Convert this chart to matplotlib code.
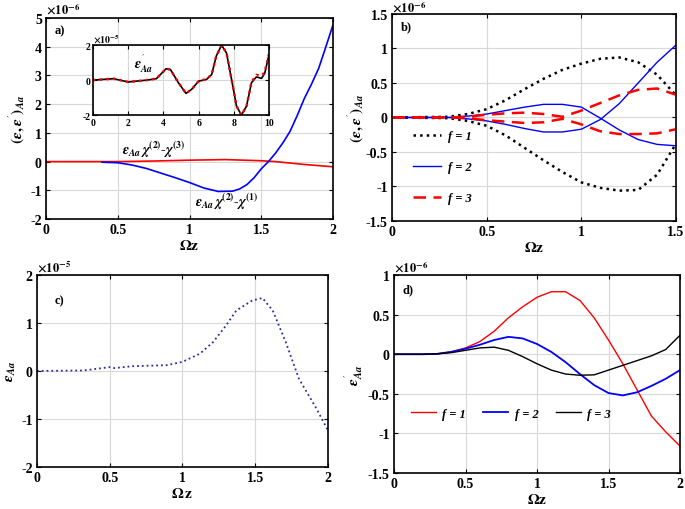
import matplotlib
matplotlib.use('Agg')
import matplotlib.pyplot as plt
from matplotlib.ticker import FuncFormatter

plt.rcParams['font.family'] = ['Liberation Serif', 'DejaVu Serif']
plt.rcParams['font.weight'] = 'bold'
plt.rcParams['mathtext.fontset'] = 'stix'

# panel a (x1e-6)
a_blue_x = [0.39, 0.5, 0.6, 0.7, 0.8, 0.9, 1.0, 1.1, 1.2, 1.3, 1.35, 1.4, 1.45, 1.5, 1.55, 1.6,
            1.65, 1.7, 1.75, 1.8, 1.85, 1.9, 1.95, 2.0]
a_blue_y = [-0.02, -0.04, -0.12, -0.24, -0.4, -0.56, -0.73, -0.92, -1.04, -1.03, -0.95, -0.8, -0.56,
            -0.25, 0.0, 0.3, 0.65, 1.05, 1.6, 2.2, 2.7, 3.25, 4.0, 4.77]
a_red_x = [0, 0.5, 0.75, 1.0, 1.25, 1.5, 1.6, 1.8, 2.0]
a_red_y = [0, 0.0, 0.02, 0.05, 0.07, 0.03, 0.0, -0.1, -0.18]

# inset (x1e-5)
in_x = [0, 1.17, 2.0, 3.06, 3.6, 4.15, 4.4, 4.85, 5.28, 5.6, 6.0, 6.45, 6.74, 7.0, 7.3,
        7.58, 7.87, 8.15, 8.43, 8.72, 9.0, 9.28, 9.57, 9.75, 10]
in_black = [0, 0.08, -0.11, 0, 0.08, 0.65, 0.6, -0.15, -0.76, -0.53, -0.06, 0.04, 0.32, 1.37, 2.0,
            1.56, 0.04, -1.49, -2.0, -1.49, -0.15, 0.18, 0.1, 0.38, 1.47]
in_red = [0, 0.08, -0.11, 0, 0.08, 0.65, 0.6, -0.15, -0.76, -0.53, -0.06, 0.06, 0.32, 1.37, 2.0,
          1.56, 0.04, -1.49, -2.0, -1.49, -0.12, 0.3, 0.25, 0.45, 1.5]

# panel b (x1e-6)
b_x = [0, 0.3, 0.4, 0.5, 0.6, 0.7, 0.8, 0.9, 1.0, 1.1, 1.2, 1.3, 1.4, 1.5]
b_f1_up = [0, 0.01, 0.05, 0.12, 0.25, 0.41, 0.56, 0.69, 0.78, 0.85, 0.87, 0.80, 0.62, 0.32]
b_f1_lo = [0, -0.01, -0.05, -0.12, -0.26, -0.44, -0.62, -0.79, -0.94, -1.02, -1.06, -1.05, -0.83, -0.38]
b_f2_up = [0, 0, 0.02, 0.05, 0.1, 0.15, 0.19, 0.19, 0.15, -0.01, -0.18, -0.32, -0.39, -0.41]
b_f2_lo = [0, 0, -0.02, -0.05, -0.1, -0.16, -0.21, -0.21, -0.17, -0.03, 0.2, 0.5, 0.8, 1.05]
b_f3_up = [0, 0, 0.01, 0.04, 0.06, 0.07, 0.05, 0.01, 0.1, 0.21, 0.32, 0.4, 0.42, 0.33]
b_f3_lo = [0, 0, -0.01, -0.04, -0.06, -0.08, -0.07, -0.02, -0.1, -0.2, -0.24, -0.24, -0.23, -0.17]

# panel c (x1e-5)
c_x = [0, 0.32, 0.5, 0.53, 0.66, 0.89, 1.0, 1.12, 1.21, 1.3, 1.37, 1.48, 1.55, 1.62, 1.71, 1.8, 1.92, 2.0]
c_y = [0, 0.01, 0.08, 0.06, 0.1, 0.12, 0.19, 0.36, 0.6, 0.95, 1.26, 1.47, 1.52, 1.26, 0.6, -0.16, -0.78, -1.24]

# panel d (x1e-6)
d_x = [0, 0.2, 0.3, 0.4, 0.5, 0.6, 0.7, 0.8, 0.9, 1.0, 1.1, 1.2, 1.3, 1.4, 1.5, 1.6, 1.7, 1.8, 1.9, 2.0]
d_f1 = [0, 0, 0.005, 0.03, 0.08, 0.16, 0.29, 0.46, 0.6, 0.72, 0.79, 0.79, 0.68, 0.46, 0.18, -0.12,
        -0.45, -0.78, -0.98, -1.16]
d_f2 = [0, 0, 0.005, 0.03, 0.07, 0.12, 0.18, 0.22, 0.2, 0.13, 0.03, -0.1, -0.25, -0.39, -0.49, -0.52,
        -0.48, -0.4, -0.31, -0.2]
d_f3 = [0, 0, 0.005, 0.02, 0.05, 0.08, 0.09, 0.05, -0.03, -0.12, -0.2, -0.25, -0.265, -0.26, -0.2,
        -0.14, -0.08, -0.02, 0.06, 0.24]

fmt = FuncFormatter(lambda v, p: ('%g' % v).replace('\u2212', '-'))


def style(ax, xt, yt, fs=10):
    ax.set_xticks(xt)
    ax.set_yticks(yt)
    ax.set_xlim(xt[0], xt[-1])
    ax.set_ylim(yt[0], yt[-1])
    ax.xaxis.set_major_formatter(fmt)
    ax.yaxis.set_major_formatter(fmt)
    ax.grid(True, color='#d8d8d8', lw=0.8)
    ax.set_axisbelow(True)
    ax.tick_params(direction='in', length=3, labelsize=fs, top=True, right=True, pad=3)
    for s in ax.spines.values():
        s.set_linewidth(1.2)


def expo(ax, e, fs=9, y=1.005):
    ax.text(0.0, y, r'$\times 10^{%d}$' % e, transform=ax.transAxes,
            ha='left', va='bottom', fontsize=fs)


fig = plt.figure(figsize=(6.85, 5.10), dpi=100)

# a)
ax1 = fig.add_axes([0.0672, 0.5686, 0.419, 0.394])
ax1.plot(a_red_x, a_red_y, color='red', lw=1.2)
ax1.plot(a_blue_x, a_blue_y, color='blue', lw=1.2)
style(ax1, [0, 0.5, 1, 1.5, 2], [-2, -1, 0, 1, 2, 3, 4, 5])
expo(ax1, -6)
ax1.text(0.03, 0.97, 'a)', transform=ax1.transAxes, ha='left', va='top', fontsize=9)
ax1.text(0.53, 0.25, r'$\epsilon_{Aa}\,\chi^{(2)}$-$\chi^{(3)}$', fontsize=10)
ax1.text(1.04, -1.55, r'$\epsilon_{Aa}\,\chi^{(2)}$-$\chi^{(1)}$', fontsize=10)
ax1.set_xlabel(r'$\mathbf{\Omega z}$', fontsize=11, labelpad=1)
ax1.set_ylabel(r"$(\epsilon,\epsilon^{'})_{Aa}$", fontsize=11, labelpad=2)

# inset
axi = fig.add_axes([0.1358, 0.7725, 0.257, 0.137])
axi.plot(in_x, in_black, color='black', lw=1.2)
axi.plot(in_x, in_red, color='red', lw=1.8, ls=':')
style(axi, [0, 2, 4, 6, 8, 10], [-2, 0, 2], fs=7)
axi.tick_params(labelsize=7, pad=2)
expo(axi, -5, fs=7)
axi.text(2.3, 0.7, r"$\epsilon^{'}_{Aa}$", fontsize=10)

# b)
ax2 = fig.add_axes([0.5723, 0.5647, 0.4146, 0.406])
ax2.plot(b_x, b_f1_up, color='black', lw=1.8, ls=':', label='f = 1')
ax2.plot(b_x, b_f1_lo, color='black', lw=1.8, ls=':')
ax2.plot(b_x, b_f2_up, color='blue', lw=1.0, label='f = 2')
ax2.plot(b_x, b_f2_lo, color='blue', lw=1.0)
ax2.plot(b_x, b_f3_up, color='red', lw=1.8, ls=(0, (5, 3)), label='f = 3')
ax2.plot(b_x, b_f3_lo, color='red', lw=1.8, ls=(0, (5, 3)))
style(ax2, [0, 0.5, 1, 1.5], [-1.5, -1, -0.5, 0, 0.5, 1, 1.5])
expo(ax2, -6, y=0.995)
ax2.text(0.03, 0.97, 'b)', transform=ax2.transAxes, ha='left', va='top', fontsize=9)
ax2.legend(loc='center left', bbox_to_anchor=(0.035, 0.26), frameon=False,
           prop={'style': 'italic', 'size': 9}, labelspacing=1.5, handlelength=2.2,
           handletextpad=0.6)
ax2.set_xlabel(r'$\mathbf{\Omega z}$', fontsize=11, labelpad=1)
ax2.set_ylabel(r"$(\epsilon,\epsilon^{'})_{Aa}$", fontsize=11, labelpad=0)

# c)
ax3 = fig.add_axes([0.054, 0.0824, 0.4248, 0.3765])
ax3.plot(c_x, c_y, color='#2b2ba0', lw=1.3, ls=':')
style(ax3, [0, 0.5, 1, 1.5, 2], [-2, -1, 0, 1, 2])
expo(ax3, -5)
ax3.text(0.06, 0.9, 'c)', transform=ax3.transAxes, ha='left', va='top', fontsize=9)
ax3.set_xlabel(r'$\mathbf{\Omega\, z}$', fontsize=11, labelpad=1)
ax3.set_ylabel(r'$\epsilon_{Aa}$', fontsize=11, labelpad=2)

# d)
ax4 = fig.add_axes([0.5752, 0.0706, 0.4175, 0.388])
ax4.plot(d_x, d_f1, color='red', lw=1.0, label='f = 1')
ax4.plot(d_x, d_f2, color='blue', lw=1.3, label='f = 2')
ax4.plot(d_x, d_f3, color='black', lw=1.0, label='f = 3')
style(ax4, [0, 0.5, 1, 1.5, 2], [-1.5, -1, -0.5, 0, 0.5, 1])
expo(ax4, -6)
ax4.text(0.03, 0.96, 'd)', transform=ax4.transAxes, ha='left', va='top', fontsize=9)
ax4.legend(loc='center left', bbox_to_anchor=(0.02, 0.3), frameon=False, ncol=3,
           prop={'style': 'italic', 'size': 9}, handlelength=2.0, columnspacing=1.4,
           handletextpad=0.5)
ax4.set_xlabel(r'$\mathbf{\Omega z}$', fontsize=11, labelpad=1)
ax4.set_ylabel(r"$\epsilon^{'}_{Aa}$", fontsize=11, labelpad=2)

fig.savefig('out.png', dpi=100)
